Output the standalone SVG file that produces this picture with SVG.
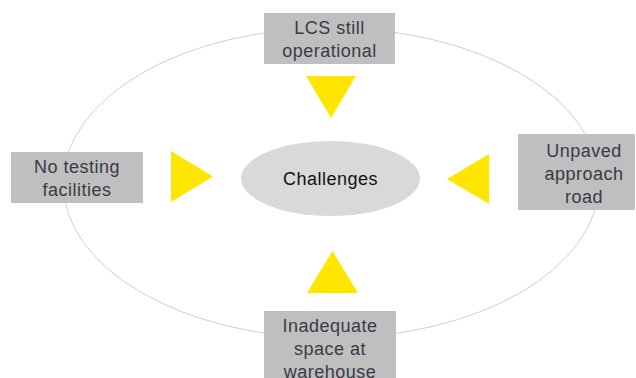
<svg xmlns="http://www.w3.org/2000/svg" width="636" height="378" viewBox="0 0 636 378">
<style>
.box{fill:#bfbfbf}
.lbl{font-family:"Liberation Sans",Arial,sans-serif;font-size:18px;fill:#3a3a46;text-anchor:middle;letter-spacing:0.5px}
.tri{fill:#ffe600}
.ring{fill:none;stroke:#cfcfcf;stroke-width:1}
</style>
<rect width="636" height="378" fill="#ffffff"/>
<g id="connectors">
<ellipse class="ring" cx="331" cy="183" rx="268" ry="155"/>
<polygon class="tri" points="306,76 356,76 331,118"/>
<polygon class="tri" points="171,151 171,202 213,176.5"/>
<polygon class="tri" points="489,154 489,204 447,179"/>
<polygon class="tri" points="307,293 358,293 332.5,251"/>
</g>
<g id="center">
<ellipse cx="330.5" cy="178.5" rx="89.5" ry="37.5" fill="#d9d9d9"/>
<text class="lbl" x="330.5" y="185" style="fill:#111111">Challenges</text>
</g>
<g id="top">
<rect class="box" x="264" y="13" width="131" height="51"/>
<text class="lbl" x="329.5" y="34">LCS still</text>
<text class="lbl" x="329.5" y="57">operational</text>
</g>
<g id="left">
<rect class="box" x="11" y="152" width="132" height="51"/>
<text class="lbl" x="77" y="173">No testing</text>
<text class="lbl" x="77" y="196">facilities</text>
</g>
<g id="right">
<rect class="box" x="518" y="134" width="117" height="76"/>
<text class="lbl" x="584" y="157">Unpaved</text>
<text class="lbl" x="584" y="180">approach</text>
<text class="lbl" x="584" y="203">road</text>
</g>
<g id="bottom">
<rect class="box" x="264" y="311" width="132" height="70"/>
<text class="lbl" x="330" y="332">Inadequate</text>
<text class="lbl" x="330" y="355">space at</text>
<text class="lbl" x="330" y="378">warehouse</text>
</g>
</svg>
